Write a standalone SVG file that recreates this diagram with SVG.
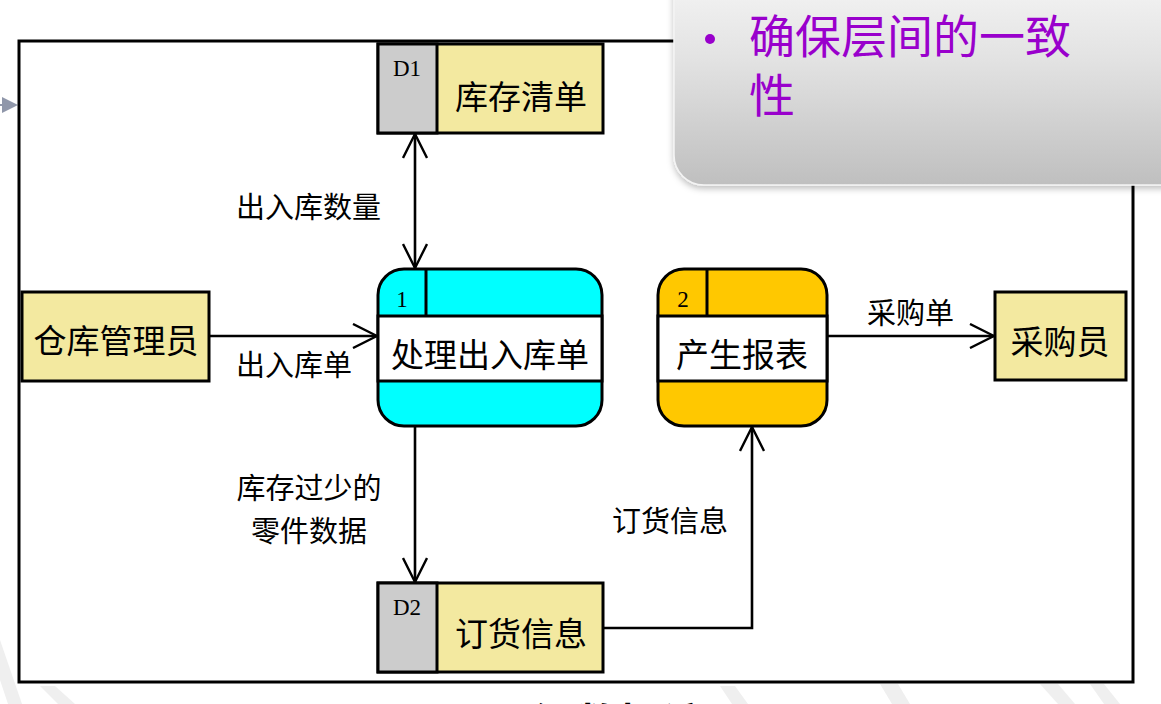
<svg xmlns="http://www.w3.org/2000/svg" width="1161" height="704" viewBox="0 0 1161 704">
<style>
.cjk{font-family:"Noto Sans CJK SC","Noto Sans CJK JP",sans-serif;fill:#000}
.lbl{font-size:29px}
.nt{font-size:33px;text-anchor:middle}
.num{font-family:"Liberation Serif",serif;font-size:23px;fill:#000;text-anchor:middle}
.box{stroke:#000;stroke-width:3}
.con{fill:none;stroke:#000;stroke-width:2.6}
</style>
<defs>
<marker id="arr" viewBox="0 0 26 26" refX="25" refY="13" markerWidth="26" markerHeight="26" markerUnits="userSpaceOnUse" orient="auto-start-reverse">
<path d="M1,1 L25,13 L1,25" fill="none" stroke="#000" stroke-width="2.4"/>
</marker>
<linearGradient id="cg" x1="0" y1="0" x2="0" y2="1">
<stop offset="0" stop-color="#f8f8f8"/>
<stop offset="0.45" stop-color="#e2e2e2"/>
<stop offset="1" stop-color="#bfbfbf"/>
</linearGradient>
<filter id="sh" x="-10%" y="-10%" width="130%" height="130%">
<feDropShadow dx="0" dy="3" stdDeviation="3" flood-color="#000" flood-opacity="0.25"/>
</filter>
</defs>
<rect width="1161" height="704" fill="#fff"/>
<g id="watermark" fill="#efefef">
<polygon points="0,640 22,704 8,704 0,680"/>
<polygon points="40,686 55,686 75,704 58,704"/>
<polygon points="720,686 735,686 748,704 732,704"/>
<polygon points="880,684 898,684 910,704 892,704"/>
<polygon points="1040,684 1058,684 1075,704 1058,704"/>
<polygon points="1090,684 1104,684 1120,704 1104,704"/>
</g>
<g id="side-arrow">
<line x1="0" y1="105" x2="3" y2="105" stroke="#9097aa" stroke-width="2"/>
<polygon points="2,97 18,105 2,113" fill="#9097aa"/>
</g>
<rect id="frame" x="19" y="41" width="1114" height="641" fill="none" stroke="#000" stroke-width="3"/>
<g id="connectors">
<line class="con" x1="415" y1="134" x2="415" y2="268" marker-start="url(#arr)" marker-end="url(#arr)"/>
<line class="con" x1="209" y1="336" x2="377" y2="336" marker-end="url(#arr)"/>
<line class="con" x1="415" y1="426" x2="415" y2="582" marker-end="url(#arr)"/>
<polyline class="con" points="603,628 752,628 752,427" marker-end="url(#arr)"/>
<line class="con" x1="827" y1="336" x2="994" y2="336" marker-end="url(#arr)"/>
<text class="cjk lbl" x="236" y="218">出入库数量</text>
<text class="cjk lbl" x="236" y="376">出入库单</text>
<text class="cjk lbl" x="309" y="499" text-anchor="middle">库存过少的</text>
<text class="cjk lbl" x="309" y="542" text-anchor="middle">零件数据</text>
<text class="cjk lbl" x="612" y="532">订货信息</text>
<text class="cjk lbl" x="867" y="324">采购单</text>
</g>
<g id="D1">
<rect class="box" x="378" y="44" width="225" height="89" fill="#f3e9a0"/>
<rect class="box" x="378" y="44" width="59" height="89" fill="#cccccc"/>
<text class="num" x="407" y="76" font-size="20">D1</text>
<text class="cjk nt" x="521" y="109">库存清单</text>
</g>
<g id="D2">
<rect class="box" x="378" y="583" width="225" height="89" fill="#f3e9a0"/>
<rect class="box" x="378" y="583" width="59" height="89" fill="#cccccc"/>
<text class="num" x="407" y="615" font-size="20">D2</text>
<text class="cjk nt" x="521" y="646">订货信息</text>
</g>
<g id="P1">
<rect class="box" x="378" y="269" width="224" height="157" rx="26" fill="#00ffff"/>
<rect class="box" x="378" y="316" width="224" height="65" fill="#fff"/>
<line class="box" x1="426" y1="269" x2="426" y2="316"/>
<text class="num" x="402" y="307">1</text>
<text class="cjk nt" x="490" y="367">处理出入库单</text>
</g>
<g id="P2">
<rect class="box" x="658" y="269" width="169" height="157" rx="26" fill="#ffc800"/>
<rect class="box" x="658" y="316" width="169" height="65" fill="#fff"/>
<line class="box" x1="707" y1="269" x2="707" y2="316"/>
<text class="num" x="683" y="307">2</text>
<text class="cjk nt" x="742" y="367">产生报表</text>
</g>
<g id="warehouse-keeper">
<rect class="box" x="22" y="292" width="187" height="89" fill="#f3e9a0"/>
<text class="cjk nt" x="116" y="353">仓库管理员</text>
</g>
<g id="buyer">
<rect class="box" x="995" y="292" width="131" height="88" fill="#f3e9a0"/>
<text class="cjk nt" x="1060" y="354">采购员</text>
</g>
<g id="callout">
<rect x="674" y="-40" width="520" height="225" rx="30" fill="url(#cg)" stroke="#f4f4f4" stroke-width="1.5" filter="url(#sh)"/>
<circle cx="710" cy="39" r="5" fill="#9900cc"/>
<text x="749" y="53" font-family="Noto Sans CJK SC,sans-serif" font-size="46" fill="#9900cc">确保层间的一致</text>
<text x="749" y="112" font-family="Noto Sans CJK SC,sans-serif" font-size="46" fill="#9900cc">性</text>
</g>
<text id="title" x="505" y="741" font-family="Noto Sans CJK SC,sans-serif" font-size="44" font-weight="bold" fill="#000">1级数据流图</text>
</svg>
